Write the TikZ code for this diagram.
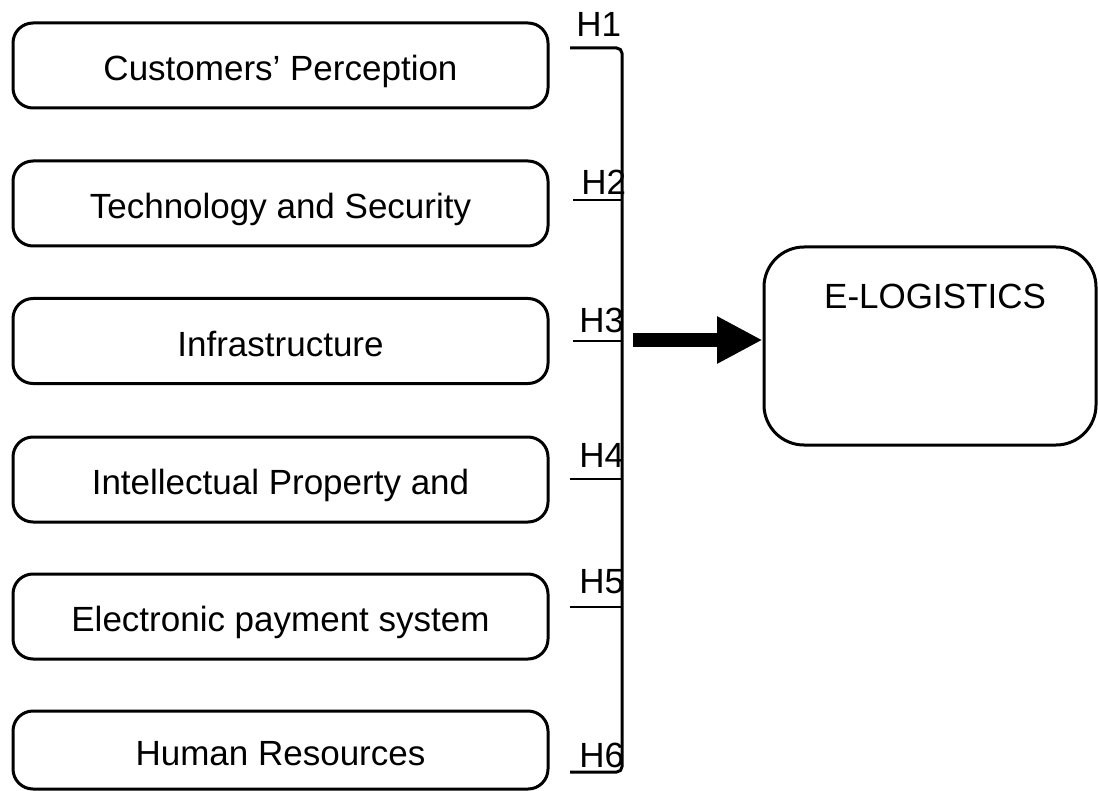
\documentclass[tikz,border=0pt]{standalone}
\usepackage{fontspec}
\setmainfont{Liberation Sans}
\usetikzlibrary{arrows.meta}
\begin{document}
\begin{tikzpicture}[x=0.75pt,y=-0.75pt,
  factor/.style={draw,line width=2.25pt,rounded corners=15pt,minimum width=401.25pt,minimum height=63.75pt,inner sep=0pt,text height=23pt,text depth=0pt,font=\fontsize{26.25}{31}\selectfont},
  hlab/.style={anchor=base west,inner sep=0pt,font=\fontsize{26.25}{31}\selectfont},
  uline/.style={line width=1.5pt},
  brk/.style={line width=2.25pt}]
\useasboundingbox (0,0) rectangle (1098,791);
\node[factor] (f1) at (280.5,65.5) {Customers’ Perception};
\node[factor] (f2) at (280.5,203.5) {Technology and Security};
\node[factor] (f3) at (280.5,341) {Infrastructure};
\node[factor] (f4) at (280.5,479.5) {Intellectual Property and};
\node[factor] (f5) at (280.5,616.5) {Electronic payment system};
\node[factor,minimum height=58.5pt] (f6) at (280.5,750) {Human Resources};
% bracket
\coordinate (btop) at (570,48);
\coordinate (bbot) at (570,772);
\draw[brk,rounded corners=4pt] (btop) -- (622,48) -- (622,772) -- (bbot);
% labels
\node[hlab] (h1) at (576,37) {H1};
\node[hlab] (h2) at (581,195) {H2};
\node[hlab] (h3) at (579,332) {H3};
\node[hlab] (h4) at (579,467) {H4};
\node[hlab] (h5) at (579,593) {H5};
\node[hlab] (h6) at (579,767) {H6};
\draw[uline] (573,200) -- (622,200);
\draw[uline] (573,341) -- (622,341);
\draw[uline] (570,479) -- (622,479);
\draw[uline] (570,607) -- (622,607);
% e-logistics
\node[draw,line width=2.25pt,rounded corners=30pt,minimum width=249pt,minimum height=148.5pt,inner sep=0pt] (elog) at (930,346) {};
\node[anchor=base,inner sep=0pt,font=\fontsize{26.25}{31}\selectfont] (elogt) at (935,309) {E-LOGISTICS};
\coordinate (astart) at (633,340);
\draw[line width=10.5pt,-{Triangle[length=34pt,width=33pt]}] (astart) -- (astart -| elog.west);
\end{tikzpicture}
\end{document}
